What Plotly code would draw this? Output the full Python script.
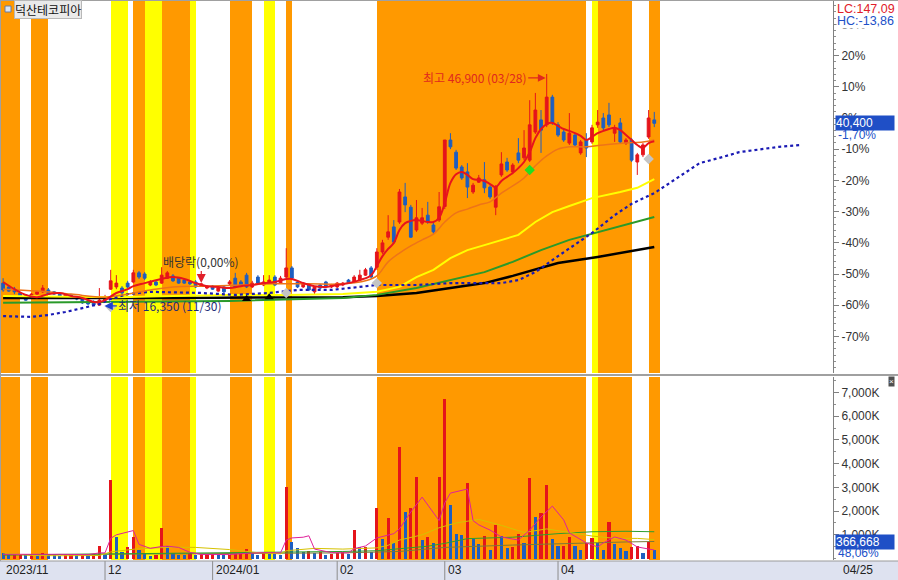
import plotly.graph_objects as go

# ---------------- data ----------------
trading_days = {
    "2023-11": [7, 8, 9, 10, 13, 14, 15, 16, 17, 20, 21, 22, 23, 24, 27, 28, 29, 30],
    "2023-12": [1, 4, 5, 6, 7, 8, 11, 12, 13, 14, 15, 18, 19, 20, 21, 22, 26, 27, 28],
    "2024-01": [2, 3, 4, 5, 8, 9, 10, 11, 12, 15, 16, 17, 18, 19, 22, 23, 24, 25, 26, 29, 30, 31],
    "2024-02": [1, 2, 5, 6, 7, 8, 13, 14, 15, 16, 19, 20, 21, 22, 23, 26, 27, 28, 29],
    "2024-03": [4, 5, 6, 7, 8, 11, 12, 13, 14, 15, 18, 19, 20, 21, 22, 25, 26, 27, 28, 29],
    "2024-04": [1, 2, 3, 4, 5, 8, 9, 11, 12, 15, 16, 17, 18, 19, 22, 23, 24, 25],
}
dates = [f"{m}-{d:02d}" for m, days in trading_days.items() for d in days]

opens = [19350, 18850, 18550, 18050, 17800, 17400, 17900, 18200, 18450, 18200,
         17900, 17500, 17800, 17500, 17400, 17000, 16850, 16450, 17100, 18550,
         18850, 18700, 19350, 19500, 20700, 20550, 19100, 19500, 19350, 20000,
         20300, 20000, 19750, 19500, 19500, 18950, 18700, 18950, 18300, 18850,
         19250, 20000, 19500, 20400, 18850, 20150, 19100, 19350, 20150, 19350,
         20150, 21350, 19500, 18850, 19100, 18200, 19100, 19500, 18850, 18850,
         19100, 19750, 19500, 19750, 20400, 21350, 21450, 23450, 25400, 26750,
         27400, 30700, 29350, 26350, 27250, 28300, 27000, 27650, 29450, 38200,
         36600, 34650, 34000, 31350, 32650, 32950, 32000, 29350, 33600, 35300,
         34000, 36500, 35850, 35550, 39250, 40850, 40200, 43850, 40200, 39250,
         37800, 38850, 36500, 38200, 37950, 40200, 41100, 41500, 39100, 40450,
         37800, 38200, 35300, 36250, 38600, 40850]
highs = [20000, 19100, 18850, 18200, 17900, 18050, 18300, 19100, 18700, 18300,
         18050, 17900, 17900, 17650, 17500, 17100, 17100, 18700, 17800, 21100,
         20400, 18950, 19650, 21100, 20950, 20800, 19750, 19650, 21450, 20950,
         20550, 20150, 19900, 19650, 19750, 19350, 19100, 19100, 18850, 18950,
         19750, 20700, 19750, 20700, 19650, 20400, 20400, 20400, 20400, 20300,
         23950, 21600, 19750, 19500, 19250, 18950, 19250, 19650, 19250, 19500,
         19500, 19900, 20400, 21100, 21350, 21600, 23950, 25050, 28300, 27650,
         31750, 32550, 29650, 30300, 29250, 30050, 27250, 31350, 38200, 39100,
         36900, 34900, 35150, 32550, 33600, 35300, 32250, 32250, 36600, 35850,
         35150, 38450, 39500, 43450, 44400, 42150, 46900, 44150, 40550, 39500,
         41750, 39100, 38200, 39100, 40200, 42150, 41750, 43100, 40200, 41100,
         38450, 38450, 36500, 37800, 42150, 41900]
lows = [18200, 18200, 17900, 17400, 17000, 17250, 17800, 18050, 17800, 17800,
        17500, 17400, 17250, 17100, 16600, 16450, 16400, 16350, 16850, 18450,
        18550, 17800, 18700, 19350, 19900, 19750, 18950, 18950, 19250, 19900,
        19500, 19250, 19250, 19100, 18700, 18850, 18550, 18450, 18200, 18050,
        19100, 18700, 18950, 18700, 18700, 19250, 18950, 19250, 18950, 19250,
        20000, 19750, 18700, 18700, 18300, 17800, 18550, 18700, 18700, 18700,
        18950, 19250, 19350, 19650, 20300, 20000, 21100, 23200, 25050, 24500,
        27150, 28700, 25300, 26100, 27000, 27150, 25800, 27400, 29100, 37000,
        34250, 32950, 30550, 31100, 32550, 31200, 30450, 28300, 33350, 34000,
        33700, 35150, 35550, 35300, 39000, 36500, 39900, 40200, 38600, 37950,
        37550, 37300, 36250, 35950, 37700, 39800, 39500, 39900, 37950, 37700,
        37550, 35300, 33600, 35950, 38350, 39900]
closes = [18450, 18300, 18200, 17500, 17100, 17900, 18200, 18700, 17900, 17900,
          17650, 17800, 17400, 17250, 16750, 16600, 16450, 17100, 17500, 19650,
          19350, 18050, 18850, 20700, 20150, 20000, 19500, 19100, 20400, 20700,
          19650, 19350, 19350, 19250, 18850, 19250, 18950, 18550, 18700, 18200,
          19500, 18850, 19100, 18850, 19350, 19350, 19500, 19750, 19100, 20000,
          21350, 20000, 18850, 19350, 18450, 18850, 18700, 18850, 19100, 19350,
          19350, 19350, 20150, 20400, 21100, 20150, 23450, 24650, 26100, 24750,
          31350, 29650, 25400, 27950, 27950, 27400, 26100, 29400, 38200, 37300,
          34500, 33200, 32000, 32250, 33200, 31900, 30700, 32000, 35050, 34250,
          34900, 35550, 37150, 40200, 42150, 39500, 43850, 40450, 38850, 38200,
          39100, 37550, 37950, 37150, 39800, 40550, 39800, 40200, 39800, 37950,
          38200, 35550, 36250, 37550, 41100, 40400]
volumes = [240000, 180000, 190000, 200000, 170000, 210000, 190000, 230000, 200000, 150000,
           120000, 170000, 180000, 175000, 185000, 160000, 175000, 530000, 150000, 3300000,
           920000, 290000, 500000, 910000, 360000, 250000, 110000, 130000, 1290000, 530000,
           240000, 150000, 140000, 215000, 150000, 180000, 190000, 200000, 150000, 130000,
           170000, 190000, 200000, 400000, 220000, 150000, 290000, 200000, 180000, 150000,
           3030000, 710000, 450000, 290000, 300000, 240000, 290000, 150000, 190000, 240000,
           280000, 190000, 1200000, 470000, 490000, 280000, 2130000, 825000, 1710000, 657000,
           4711000, 1974000, 2130000, 3448000, 783000, 922000, 657000, 3448000, 6719000, 2257000,
           1036000, 994000, 3183000, 825000, 615000, 951000, 362000, 1415000, 951000, 446000,
           488000, 1036000, 670000, 3406000, 1764000, 1932000, 3099000, 825000, 530000, 540000,
           922000, 530000, 362000, 657000, 867000, 657000, 362000, 1553000, 615000, 446000,
           320000, 500000, 543000, 236000, 706000, 366668]

# price moving-average lines (day index -> price)
ma_red_x = [0, 2, 4, 6, 8, 10, 12, 14, 16, 17, 18, 20, 22, 23, 25, 28, 30, 32, 34, 36, 38, 40,
            42, 44, 46, 48, 50, 51, 53, 55, 57, 59, 61, 63, 65] + list(range(66, 116))
ma_red_y = [19500, 18550, 17800, 17500, 17900, 18050, 17650, 17400, 16850, 16850, 17100, 18050,
            18550, 18950, 19350, 19900, 20150, 19900, 19350, 18950, 18850, 18700, 18950, 19100,
            19350, 19500, 19900, 19900, 19350, 18950, 18850, 19100, 19350, 19750, 20400,
            21600, 22900, 23850, 24650, 26350, 27250, 27550, 27650, 27550, 27400, 27400, 27950,
            29900, 32550, 33700, 34000, 33600, 33050, 32950, 32800, 32400, 32000, 32800, 33350,
            33850, 34500, 35300, 36600, 38450, 39650, 40300, 40450, 40050, 39650, 39400, 39100,
            38750, 38200, 38600, 39100, 39400, 39650, 39800, 39500, 38850, 38200, 37550, 37150,
            37800, 38050]
ma_orange_x = [0, 6, 12, 18, 22, 26, 30, 36, 42, 48, 54, 60, 64, 66, 68, 70, 72, 74, 76, 78, 80,
               82, 84, 86, 88, 90, 92, 94, 96, 98, 100, 103, 106, 110, 113, 115]
ma_orange_y = [18550, 18300, 17900, 17500, 17900, 18450, 18850, 18950, 19100, 19250, 19250, 19250,
               19650, 20300, 22150, 23300, 24250, 25050, 25800, 27400, 28600, 29100, 29650, 30050,
               31200, 32150, 33200, 34800, 36100, 37000, 37300, 37300, 37550, 37800, 37950, 38200]
ma_yellow_x = [0, 20, 30, 40, 50, 60, 66, 70, 73, 76, 79, 82, 85, 88, 91, 94, 97, 100, 104, 109, 112, 115]
ma_yellow_y = [17650, 17500, 17650, 17800, 17800, 17900, 18200, 18850, 20150, 21100, 22650, 23700,
               24350, 25050, 25700, 27400, 28700, 29500, 30550, 31350, 31900, 33050]
ma_green_x = [0, 20, 40, 60, 66, 73, 79, 85, 90, 95, 100, 108, 115]
ma_green_y = [16750, 16850, 17000, 17400, 17800, 18700, 19750, 20800, 22150, 23700, 25050, 26600, 28050]
ma_black_x = [0, 30, 60, 66, 73, 79, 85, 90, 98, 105, 115]
ma_black_y = [17400, 17400, 17500, 17650, 18050, 18700, 19350, 20300, 22000, 22800, 24100]
lead_x = [0, 5, 8, 11, 14, 17, 19, 22, 26, 35, 41, 47, 52, 58, 66, 73, 79, 88, 91, 94, 98, 102,
          104, 108, 111, 115, 119, 123, 127, 130, 134, 137, 141]
lead_y = [15000, 14900, 15150, 15550, 16050, 16600, 17250, 17900, 18200, 18050, 17800, 18050,
          18450, 18450, 19100, 19100, 19350, 19350, 19750, 20800, 22900, 24900, 25950, 28300,
          29800, 31200, 33200, 35150, 35950, 36600, 37000, 37300, 37550]

# volume moving-average lines (day index -> shares, thousands)
vma_pink_x = [0, 5, 10, 15, 17, 18, 19, 20, 22, 23, 24, 26, 28, 29, 31, 33, 35, 40, 43, 46, 49, 50,
              51, 53, 54, 55, 58, 61, 62, 64, 66, 68, 69, 70, 71, 72, 74, 76, 77, 78, 79, 82, 83,
              84, 86, 88, 91, 93, 95, 97, 99, 100, 103, 105, 106, 108, 110, 112, 115]
vma_pink_k = [180, 190, 180, 165, 240, 240, 850, 1000, 1100, 1180, 600, 430, 510, 520, 470, 260,
              170, 170, 220, 250, 240, 780, 870, 900, 960, 400, 250, 240, 420, 530, 870, 1000,
              1050, 1250, 1600, 1960, 2590, 1920, 1600, 2350, 2760, 2930, 1600, 1420, 1200, 910,
              780, 1200, 1750, 2210, 1630, 1080, 660, 490, 660, 910, 780, 490, 360]
vma_olive_x = [0, 5, 10, 17, 19, 24, 30, 34, 40, 45, 49, 50, 55, 60, 66, 68, 70, 74, 77, 80, 84,
               88, 92, 96, 100, 104, 108, 112, 115]
vma_olive_k = [240, 130, 120, 130, 280, 420, 480, 470, 380, 250, 200, 330, 430, 400, 450, 560, 780,
               1000, 1300, 1500, 1650, 1400, 1100, 1250, 1100, 950, 850, 850, 800]
vma_green_x = [0, 20, 40, 60, 66, 70, 75, 78, 82, 90, 98, 104, 110, 115]
vma_green_k = [150, 190, 260, 300, 330, 420, 520, 640, 840, 900, 1050, 1130, 1150, 1130]
vma_gray_x = [0, 30, 60, 70, 78, 90, 100, 110, 115]
vma_gray_k = [160, 200, 240, 300, 470, 570, 650, 700, 720]

# background day colouring (runs starting at day index -1): O=orange, Y=yellow, W=white
band_runs = [("O", 4), ("W", 2), ("O", 3), ("W", 11), ("Y", 3), ("W", 1), ("O", 2), ("Y", 3),
             ("O", 5), ("Y", 1), ("W", 6), ("O", 4), ("W", 2), ("Y", 2), ("W", 2), ("O", 1),
             ("W", 15), ("O", 37), ("W", 1), ("Y", 1), ("O", 6), ("W", 3), ("O", 2)]
band_start = -1

# signal markers
sig_black_x, sig_black_y = [43, 47], [17250, 17500]
sig_gray_x, sig_gray_y = [19, 50, 66, 114], [16200, 18050, 19350, 35700]
sig_green_x, sig_green_y = [93], [34250]
div_idx = 35
hi_idx, lo_idx = 96, 17

BASE = 41100      # previous close = 0 %
pct_ticks = [30, 20, 10, 0, -10, -20, -30, -40, -50, -60, -70]
vol_ticks_k = [1000, 2000, 3000, 4000, 5000, 6000, 7000]

# ---------------- geometry ----------------
W, H = 898, 580
ML, MR, MT, MB = 1, 65, 1, 20
PW, PH = W - ML - MR, H - MT - MB
STEP = 5.6625                      # pixels per trading day
X0 = -0.37
X1 = X0 + PW / STEP
PX_PER_PCT = 3.12
WON_PER_PX = BASE / 100 / PX_PER_PCT
PMAX = BASE + (118 - 1) * WON_PER_PX
PMIN = BASE - (373 - 118) * WON_PER_PX
VMIN, VMAX = -60000, 7650000


def pxx(x):
    return (x - ML) / PW


def pxy(y):
    return (H - MB - y) / PH


RED, BLUE = "#E5141B", "#1E5EC0"
FONT = "Liberation Sans, Noto Sans CJK KR, sans-serif"
KFONT = "Noto Sans CJK KR, Liberation Sans, sans-serif"
band_col = {"O": "#FF9900", "Y": "#FFFF00"}

fig = go.Figure()

# background bands (price pane and volume pane)
bx, bw, bc = [], [], []
pos = band_start
for code, n in band_runs:
    if code != "W":
        bx.append(pos + n / 2)
        bw.append(n)
        bc.append(band_col[code])
    pos += n
fig.add_trace(go.Bar(x=bx, y=[PMAX - PMIN] * len(bx), base=PMIN, width=bw,
                     marker=dict(color=bc, line=dict(width=0)), xaxis="x", yaxis="y",
                     hoverinfo="skip"))
fig.add_trace(go.Bar(x=bx, y=[VMAX - VMIN] * len(bx), base=VMIN, width=bw,
                     marker=dict(color=bc, line=dict(width=0)), xaxis="x2", yaxis="y2",
                     hoverinfo="skip"))

idx = list(range(len(dates)))

# volume bars, coloured by change versus previous day
vcol = [BLUE] + [RED if volumes[i] >= volumes[i - 1] else BLUE for i in range(1, len(volumes))]
fig.add_trace(go.Bar(x=idx, y=volumes, width=0.55, marker=dict(color=vcol, line=dict(width=0)),
                     xaxis="x2", yaxis="y2", customdata=dates))

# candles
fig.add_trace(go.Candlestick(x=idx, open=opens, high=highs, low=lows, close=closes,
                             increasing=dict(line=dict(color=RED, width=1), fillcolor=RED),
                             decreasing=dict(line=dict(color=BLUE, width=1), fillcolor=BLUE),
                             whiskerwidth=0, xaxis="x", yaxis="y"))

# price MA lines
fig.add_trace(go.Scatter(x=ma_black_x, y=ma_black_y, mode="lines",
                         line=dict(color="#000000", width=2.5), xaxis="x", yaxis="y"))
fig.add_trace(go.Scatter(x=ma_green_x, y=ma_green_y, mode="lines",
                         line=dict(color="#2A9A2A", width=2), xaxis="x", yaxis="y"))
fig.add_trace(go.Scatter(x=ma_yellow_x, y=ma_yellow_y, mode="lines",
                         line=dict(color="#FFFF00", width=2), xaxis="x", yaxis="y"))
fig.add_trace(go.Scatter(x=lead_x, y=lead_y, mode="lines",
                         line=dict(color="#1A1AB4", width=2.2, dash="dot"), xaxis="x", yaxis="y"))
fig.add_trace(go.Scatter(x=ma_orange_x, y=ma_orange_y, mode="lines", line_shape="spline",
                         line=dict(color="#EE7418", width=1.5), xaxis="x", yaxis="y"))
fig.add_trace(go.Scatter(x=ma_red_x, y=ma_red_y, mode="lines", line_shape="spline",
                         line=dict(color="#E8141C", width=2), xaxis="x", yaxis="y"))

# markers
fig.add_trace(go.Scatter(x=sig_black_x, y=sig_black_y, mode="markers",
                         marker=dict(symbol="triangle-up", size=8, color="#000000"),
                         xaxis="x", yaxis="y"))
fig.add_trace(go.Scatter(x=sig_gray_x, y=sig_gray_y, mode="markers",
                         marker=dict(symbol="diamond", size=8, color="#C4C4C4"),
                         xaxis="x", yaxis="y"))
fig.add_trace(go.Scatter(x=sig_green_x, y=sig_green_y, mode="markers",
                         marker=dict(symbol="diamond", size=8, color="#22DD22"),
                         xaxis="x", yaxis="y"))

# volume MA lines
for vx, vk, colr in [(vma_gray_x, vma_gray_k, "#7A7A3A"), (vma_green_x, vma_green_k, "#2E9E2E"),
                     (vma_olive_x, vma_olive_k, "#D6C200"), (vma_pink_x, vma_pink_k, "#E0209A")]:
    fig.add_trace(go.Scatter(x=vx, y=[k * 1000 for k in vk], mode="lines",
                             line=dict(color=colr, width=1), xaxis="x2", yaxis="y2"))

# ---------------- annotations ----------------
ann = []
shapes = []
prev = None
for i, d in enumerate(dates):
    ym = d[:7]
    if ym != prev:
        if prev is None or ym[:4] != prev[:4]:
            lab = ym.replace("-", "/")
        else:
            lab = ym[5:]
        ann.append(dict(x=i, xref="x", y=pxy(570), yref="paper", text=lab, showarrow=False,
                        xanchor="left", yanchor="middle", xshift=1,
                        font=dict(family=FONT, size=12, color="#222222")))
        if prev is not None:
            shapes.append(dict(type="line", xref="x", yref="paper", x0=i, x1=i,
                               y0=pxy(580), y1=pxy(561), line=dict(color="#8C8C8C", width=1)))
        prev = ym

ann.append(dict(x=pxx(841), xref="paper", y=pxy(570), yref="paper", text=dates[-1][5:].replace("-", "/"),
                showarrow=False, xanchor="left", yanchor="middle",
                font=dict(family=FONT, size=12, color="#222222")))

# stock name
ann.append(dict(x=pxx(14), xref="paper", y=pxy(10), yref="paper", text="덕산테코피아",
                showarrow=False, xanchor="left", yanchor="middle", bgcolor="#EAEAEA",
                bordercolor="#B8B8B8", borderwidth=1, borderpad=0,
                font=dict(family=KFONT, size=12, color="#111111")))

lc = (closes[-1] / min(lows) - 1) * 100
hc = (closes[-1] / max(highs) - 1) * 100
ann.append(dict(x=pxx(836), xref="paper", y=pxy(1), yref="paper",
                text=f"LC:{lc:.2f}".replace(".", ","), showarrow=False, xanchor="left",
                yanchor="top", bgcolor="white", borderpad=0,
                font=dict(family=FONT, size=12.5, color="#E0202A")))
ann.append(dict(x=pxx(836), xref="paper", y=pxy(13), yref="paper",
                text=f"HC:{hc:.2f}".replace(".", ","), showarrow=False, xanchor="left",
                yanchor="top", bgcolor="white", borderpad=0,
                font=dict(family=FONT, size=12.5, color="#2050C8")))

chg = (closes[-1] / closes[-2] - 1) * 100
ann.append(dict(x=pxx(835), xref="paper", y=closes[-1], yref="y", text=f"{closes[-1]:,}",
                showarrow=False, xanchor="left", yanchor="middle", bgcolor="#1F4FC6",
                width=58, align="left", borderpad=0,
                font=dict(family=FONT, size=12, color="white")))
ann.append(dict(x=pxx(836), xref="paper", y=closes[-1], yref="y", yshift=-12,
                text=f"{chg:.2f}%".replace(".", ","), showarrow=False, xanchor="left",
                yanchor="middle", font=dict(family=FONT, size=12, color="#2050C8")))

vdrop = (1 - volumes[-1] / volumes[-2]) * 100
ann.append(dict(x=pxx(835), xref="paper", y=pxy(541.5), yref="paper", text=f"{volumes[-1]:,}",
                showarrow=False, xanchor="left", yanchor="middle", bgcolor="#1F4FC6",
                width=58, align="left", borderpad=0,
                font=dict(family=FONT, size=12, color="white")))
ann.append(dict(x=pxx(836), xref="paper", y=pxy(553), yref="paper",
                text=f"{vdrop:.2f}%".replace(".", ","),
                showarrow=False, xanchor="left", yanchor="middle",
                font=dict(family=FONT, size=12, color="#2050C8")))
ann.append(dict(x=pxx(891), xref="paper", y=pxy(381.5), yref="paper", text="×", showarrow=False,
                xanchor="center", yanchor="middle", bgcolor="#505050", borderpad=0,
                font=dict(family=FONT, size=8, color="white")))

# high / low / dividend labels
ann.append(dict(x=hi_idx, xref="x", y=highs[hi_idx], yref="y", yshift=-4,
                text=f"최고 {highs[hi_idx]:,} ({dates[hi_idx][5:].replace('-', '/')})",
                showarrow=True, ax=-72, ay=0, arrowhead=2, arrowsize=1.2, arrowwidth=1.3,
                arrowcolor="#E0281E", standoff=1,
                font=dict(family=KFONT, size=12, color="#E0281E")))
ann.append(dict(x=lo_idx, xref="x", y=lows[lo_idx], yref="y",
                text=f"최저 {lows[lo_idx]:,} ({dates[lo_idx][5:].replace('-', '/')})",
                showarrow=True, ax=71, ay=0, arrowhead=2, arrowsize=1.3, arrowwidth=1.3,
                arrowcolor="#2040D0", standoff=5,
                font=dict(family=KFONT, size=12, color="#1C2C78")))
ann.append(dict(x=div_idx, xref="x", y=highs[div_idx], yref="y",
                text="배당락(0,00%)", showarrow=True, ax=0, ay=-22, arrowhead=2, arrowsize=1.5,
                arrowwidth=1.2, arrowcolor="#E0202A", standoff=0,
                font=dict(family=KFONT, size=12, color="#333333")))

# decorative shapes: date bar, pane separator, frame, icon
shapes.insert(0, dict(type="rect", xref="paper", yref="paper", x0=pxx(0), x1=pxx(898),
                      y0=pxy(580), y1=pxy(561), fillcolor="#DEE2F0", line=dict(width=0),
                      layer="below"))
shapes.append(dict(type="line", xref="paper", yref="paper", x0=pxx(0), x1=pxx(898),
                   y0=pxy(561), y1=pxy(561), line=dict(color="#9A9A9A", width=1)))
shapes.append(dict(type="line", xref="paper", yref="paper", x0=pxx(0), x1=pxx(898),
                   y0=pxy(375), y1=pxy(375), line=dict(color="#A0A0A0", width=2)))
shapes.append(dict(type="line", xref="paper", yref="paper", x0=pxx(0.5), x1=pxx(0.5),
                   y0=pxy(0), y1=pxy(561), line=dict(color="#A0A0A0", width=1)))
shapes.append(dict(type="line", xref="paper", yref="paper", x0=pxx(0), x1=pxx(898),
                   y0=pxy(0.5), y1=pxy(0.5), line=dict(color="#A0A0A0", width=1)))
shapes.append(dict(type="rect", xref="paper", yref="paper", x0=pxx(5), x1=pxx(11),
                   y0=pxy(12), y1=pxy(6), fillcolor="#D8E4F4", line=dict(color="#6A7A9A", width=1)))

axis_common = dict(showgrid=False, zeroline=False, fixedrange=True)
fig.update_layout(
    width=W, height=H, margin=dict(l=ML, r=MR, t=MT, b=MB, pad=0),
    paper_bgcolor="white", plot_bgcolor="white", showlegend=False,
    barmode="overlay", bargap=0,
    font=dict(family=FONT, size=12, color="#333333"),
    xaxis=dict(domain=[0, 1], range=[X0, X1], anchor="y", showticklabels=False,
               rangeslider=dict(visible=False), ticks="", **axis_common),
    xaxis2=dict(domain=[0, 1], range=[X0, X1], anchor="y2", matches="x",
                showticklabels=False, ticks="", **axis_common),
    yaxis=dict(domain=[pxy(373), 1], range=[PMIN, PMAX], side="right", anchor="x",
               tickmode="array", tickvals=[BASE * (1 + p / 100) for p in pct_ticks],
               ticktext=[f"{p}%" for p in pct_ticks], ticks="outside", ticklen=5,
               tickcolor="#808080", showline=True, linecolor="#808080", linewidth=1,
               tickfont=dict(family=FONT, size=12, color="#333333"),
               minor=dict(tickmode="linear", tick0=BASE, dtick=BASE * 0.02, ticks="outside",
                          ticklen=2, tickcolor="#909090"),
               **axis_common),
    yaxis2=dict(domain=[0, pxy(377)], range=[VMIN, VMAX], side="right", anchor="x2",
                tickmode="array", tickvals=[k * 1000 for k in vol_ticks_k],
                ticktext=[f"{k:,}K" for k in vol_ticks_k], ticks="outside", ticklen=5,
                tickcolor="#808080", showline=True, linecolor="#808080", linewidth=1,
                tickfont=dict(family=FONT, size=12, color="#333333"),
                minor=dict(tickmode="linear", tick0=0, dtick=500000, ticks="outside",
                           ticklen=2, tickcolor="#909090"),
                **axis_common),
    annotations=ann, shapes=shapes,
)

fig.write_html("out.html", config={"displayModeBar": False},
               post_script="document.body.style.margin='0px';")
